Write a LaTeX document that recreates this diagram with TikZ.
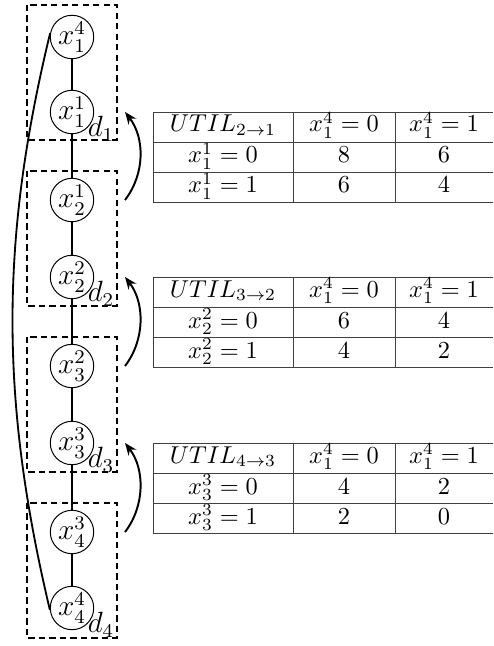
\documentclass[tikz,border=0pt]{standalone}
\usetikzlibrary{arrows.meta,calc}
\begin{document}
\begin{tikzpicture}[x=0.41pt,y=-0.41pt,
  vnode/.style={circle,draw,line width=0.4pt,minimum size=17.8pt,inner sep=0pt,font=\large},
  conn/.style={line width=0.75pt},
  dbox/.style={draw,line width=0.75pt,dash pattern=on 2.6pt off 1.7pt},
  uarrow/.style={line width=0.8pt,-{Stealth[length=5pt,width=4pt]}},
  tgrid/.style={line width=0.4pt,draw=black!75},
  cell/.style={anchor=base,inner sep=0pt},
  lbl/.style={inner sep=0pt,font=\large}]
\useasboundingbox (0,0) rectangle (493,646);
% dashed boxes
\foreach \t in {5,171,337,503}
  \draw[dbox] (27,\t) rectangle (117,{\t+135});
% nodes
\node[vnode] (a1) at (72,37)  {$x_1^4$};
\node[vnode] (a2) at (72,112) {$x_1^1$};
\node[vnode] (b1) at (72,200) {$x_2^1$};
\node[vnode] (b2) at (72,277) {$x_2^2$};
\node[vnode] (c1) at (72,366) {$x_3^2$};
\node[vnode] (c2) at (72,443) {$x_3^3$};
\node[vnode] (d1) at (72,532) {$x_4^3$};
\node[vnode] (d2) at (72,608) {$x_4^4$};
% labels
\node[lbl] (l1) at ($(a2)+(29,17)$) {$d_1$};
\node[lbl] (l2) at ($(b2)+(29,17)$) {$d_2$};
\node[lbl] (l3) at ($(c2)+(29,17)$) {$d_3$};
\node[lbl] (l4) at ($(d2)+(29,17)$) {$d_4$};
% chain
\draw[conn] (a1) -- (a2);
\draw[conn] (a2) -- (b1);
\draw[conn] (b1) -- (b2);
\draw[conn] (b2) -- (c1);
\draw[conn] (c1) -- (c2);
\draw[conn] (c2) -- (d1);
\draw[conn] (d1) -- (d2);
% long back edge
\draw[conn] (a1.170) .. controls (0,240) and (0,400) .. (d2.185);
% UTIL arrows
\coordinate (s1) at ($(b1)+(53,0)$); \coordinate (e1) at ($(a2)+(53,0)$);
\coordinate (s2) at ($(c1)+(53,0)$); \coordinate (e2) at ($(b2)+(53,0)$);
\coordinate (s3) at ($(d1)+(53,0)$); \coordinate (e3) at ($(c2)+(53,0)$);
\draw[uarrow] (s1) .. controls +(20,-26) and +(20,26) .. (e1);
\draw[uarrow] (s2) .. controls +(20,-26) and +(20,26) .. (e2);
\draw[uarrow] (s3) .. controls +(20,-26) and +(20,26) .. (e3);
% tables
\foreach \ty/\a/\b/\v/\p/\q/\r/\s [count=\k] in
  {112/2/1/1/8/6/6/4, 277/3/2/2/6/4/4/2, 443/4/3/3/4/2/2/0}{
  \foreach \dy in {0,30,60,90}
    \draw[tgrid] (153,{\ty+\dy}) -- (493,{\ty+\dy});
  \foreach \xx in {153,293,395}
    \draw[tgrid] (\xx,\ty) -- (\xx,{\ty+90});
  \node[cell] (t\k h1) at (223,{\ty+20}) {$UTIL_{\a\rightarrow \b}$};
  \node[cell] (t\k h2) at (344,{\ty+20}) {$x_1^4 = 0$};
  \node[cell] (t\k h3) at (444,{\ty+20}) {$x_1^4 = 1$};
  \node[cell] (t\k r1) at (223,{\ty+51}) {$x_\v^\v = 0$};
  \node[cell] (t\k a1) at (344,{\ty+51}) {\p};
  \node[cell] (t\k b1) at (444,{\ty+51}) {\q};
  \node[cell] (t\k r2) at (223,{\ty+81}) {$x_\v^\v = 1$};
  \node[cell] (t\k a2) at (344,{\ty+81}) {\r};
  \node[cell] (t\k b2) at (444,{\ty+81}) {\s};
}
\end{tikzpicture}
\end{document}
